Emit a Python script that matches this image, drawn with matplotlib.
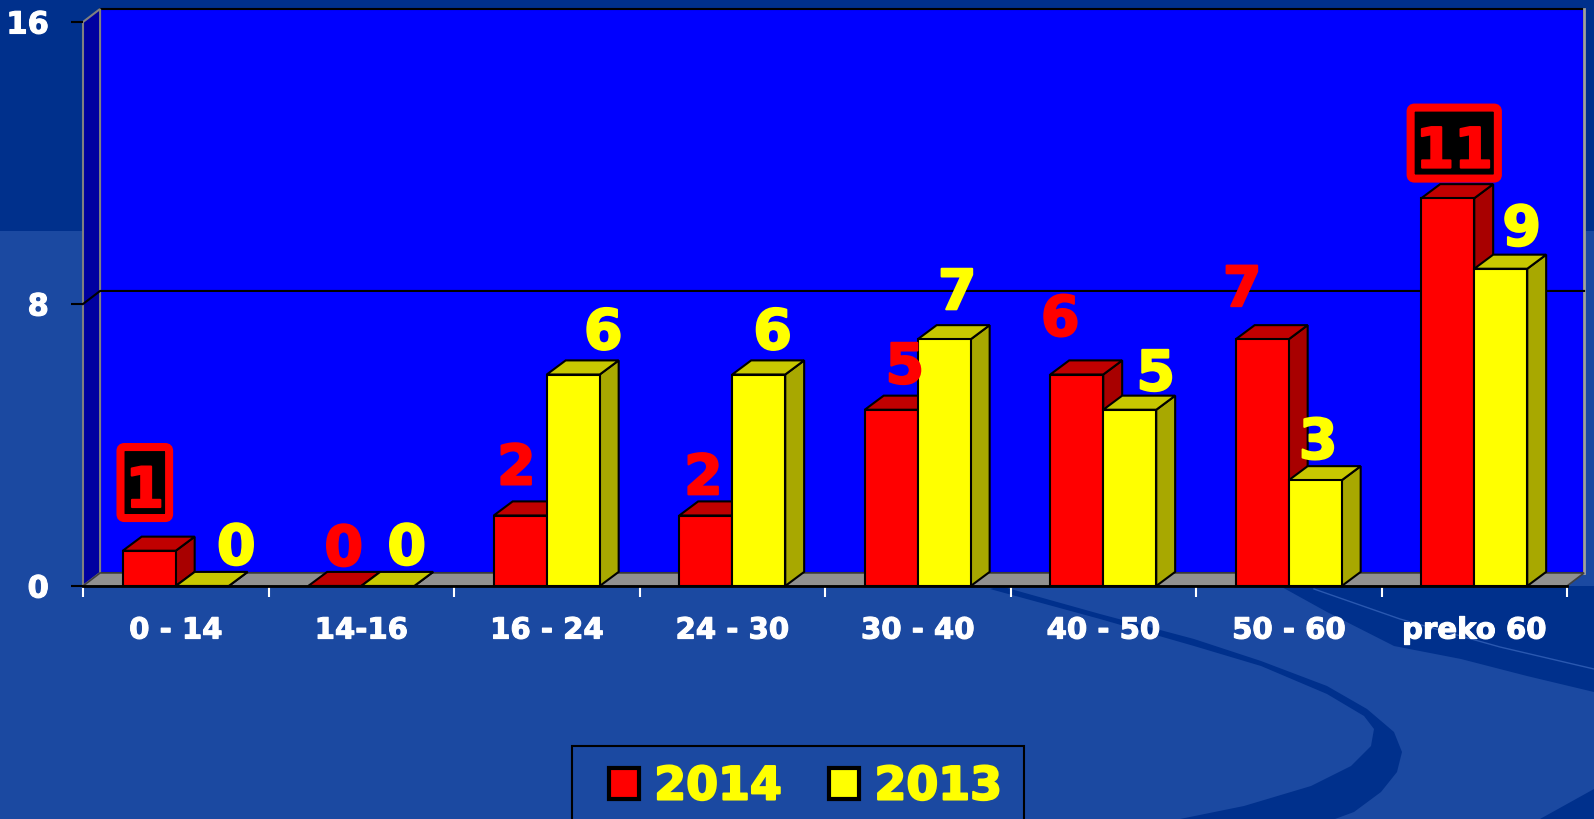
import matplotlib
matplotlib.use("Agg")
import matplotlib.pyplot as plt
import matplotlib.patheffects as pe
from matplotlib.patches import Polygon, Rectangle, Patch, FancyBboxPatch
from matplotlib.transforms import IdentityTransform

categories = ["0 - 14", "14-16", "16 - 24", "24 - 30", "30 - 40", "40 - 50", "50 - 60", "preko 60"]
values_2014 = [1, 0, 2, 2, 5, 6, 7, 11]
values_2013 = [0, 0, 6, 6, 7, 5, 3, 9]
series_names = ["2014", "2013"]
y_ticks = [0, 8, 16]

# label nudges (category units, value units) -- layout only
nudge_x_2014 = [-0.024, 0.048, -0.021, -0.013, 0.073, -0.089, -0.108, 0.035]
nudge_y_2014 = [1.82, 1.16, 1.46, 1.18, 1.33, 1.68, 1.52, 1.45]
nudge_x_2013 = [0.183, 0.102, 0.162, 0.075, 0.070, 0.140, 0.016, 0.113]
nudge_y_2013 = [1.19, 1.19, 1.30, 1.30, 1.43, 1.13, 1.19, 1.24]
boxed_2014 = [True, False, False, False, False, False, False, True]

W, H = 1594, 820
BASE = "#1b49a1"
DARK = "#00308c"
BAR_W = 0.2857
WALL_DX, WALL_DY = 0.092, 0.37
BAR_DX, BAR_DY = 0.102, 0.40
HALF_DIGIT = 0.58
DIGIT_PX = 41

plt.rcParams["font.family"] = ["DejaVu Sans"]
plt.rcParams["font.weight"] = "bold"

fig = plt.figure(figsize=(W / 100, H / 100), dpi=100)
fig.patch.set_facecolor(BASE)

# background decoration
bg = fig.add_axes([0, 0, 1, 1], zorder=-5)
bg.set_xlim(0, W)
bg.set_ylim(H, 0)
bg.axis("off")
bg.add_patch(Rectangle((0, 0), W, 232, facecolor=DARK, edgecolor="none"))
crescent = [(1000, 587), (1100, 615), (1194, 640), (1261, 662), (1327, 687), (1367, 710),
            (1394, 733), (1402, 753), (1397, 773), (1381, 793), (1354, 813), (1335, 820),
            (1180, 820), (1244, 807), (1311, 787), (1351, 767), (1371, 747), (1374, 730),
            (1364, 717), (1327, 695), (1261, 667), (1194, 647), (1100, 620), (990, 590)]
bg.add_patch(Polygon(crescent, closed=True, facecolor=DARK, edgecolor="none"))
band = [(1280, 587), (1594, 587), (1594, 693), (1527, 677), (1461, 660), (1394, 647),
        (1327, 613)]
bg.add_patch(Polygon(band, closed=True, facecolor=DARK, edgecolor="none"))
bg.plot([1314, 1400, 1500, 1594], [590, 620, 648, 670], color="#2a58b0", lw=1)
bg.add_patch(Polygon([(1540, 820), (1594, 790), (1594, 820)], closed=True,
                     facecolor=DARK, edgecolor="none"))

# main chart
ax = fig.add_axes([83 / W, (H - 587) / H, 1484 / W, 564 / H])
ax.set_facecolor("none")
n = len(categories)
ax.set_xlim(0, n)
ax.set_ylim(0, y_ticks[-1])
top = y_ticks[-1]

# walls and floor
ax.add_patch(Polygon([(WALL_DX, WALL_DY), (n + WALL_DX, WALL_DY), (n + WALL_DX, top + WALL_DY),
                      (WALL_DX, top + WALL_DY)], closed=True, facecolor="#0000ff",
                     edgecolor="black", lw=1.5, clip_on=False, zorder=0.5))
ax.plot([n + WALL_DX, n + WALL_DX], [WALL_DY, top + WALL_DY], color="#a0a0a0", lw=2,
        clip_on=False, zorder=0.6)
ax.add_patch(Polygon([(0, 0), (WALL_DX, WALL_DY), (WALL_DX, top + WALL_DY), (0, top)],
                     closed=True, facecolor="#0000a0", edgecolor="#808080", lw=1.5,
                     clip_on=False, zorder=1))
ax.add_patch(Polygon([(0, 0), (n, 0), (n + WALL_DX, WALL_DY), (WALL_DX, WALL_DY)], closed=True,
                     facecolor="#909090", edgecolor="#404040", lw=1.2, clip_on=False, zorder=1))
for yv in y_ticks[1:-1]:
    ax.plot([0, WALL_DX, n + WALL_DX], [yv, yv + WALL_DY, yv + WALL_DY], color="black", lw=1.5,
            clip_on=False, zorder=1.2)


def draw_bar(x0, h, front, top_c, side):
    faces = [
        ([(x0 + BAR_W, 0), (x0 + BAR_W + BAR_DX, BAR_DY), (x0 + BAR_W + BAR_DX, h + BAR_DY),
          (x0 + BAR_W, h)], side),
        ([(x0, h), (x0 + BAR_W, h), (x0 + BAR_W + BAR_DX, h + BAR_DY), (x0 + BAR_DX, h + BAR_DY)],
         top_c),
        ([(x0, 0), (x0 + BAR_W, 0), (x0 + BAR_W, h), (x0, h)], front),
    ]
    for pts, c in faces:
        ax.add_patch(Polygon(pts, closed=True, facecolor=c, edgecolor="black", lw=1.5,
                             clip_on=False, zorder=3))


def value_label(x, y, text, color):
    return ax.text(x, y, text, color=color, fontsize=40, fontweight="bold", ha="center",
                   va="baseline", zorder=7, clip_on=False,
                   path_effects=[pe.withStroke(linewidth=1.5, foreground=color)])


boxed = []
for i in range(n):
    c = i + 0.5
    draw_bar(c - BAR_W, values_2014[i], "#ff0000", "#c00000", "#a80000")
    draw_bar(c, values_2013[i], "#ffff00", "#c8c800", "#a8a800")

    xr = c - BAR_W / 2 + nudge_x_2014[i]
    yr = values_2014[i] + nudge_y_2014[i] - HALF_DIGIT
    t = value_label(xr, yr, str(values_2014[i]), "#ff0000")
    if boxed_2014[i]:
        boxed.append((t, xr, yr))
    xy = c + BAR_W / 2 + nudge_x_2013[i]
    yy = values_2013[i] + nudge_y_2013[i] - HALF_DIGIT
    value_label(xy, yy, str(values_2013[i]), "#ffff00")

# black boxes with red frame behind the highlighted labels
renderer = fig.canvas.get_renderer()
for t, xr, yr in boxed:
    ext = t.get_window_extent(renderer=renderer)
    bx, by = ax.transData.transform((xr, yr))
    x0, x1 = ext.x0 - 5, ext.x1 + 5
    y0, y1 = by - 11, by + DIGIT_PX + 19
    ax.add_patch(FancyBboxPatch((x0, y0), x1 - x0, y1 - y0,
                                boxstyle="round,pad=0,rounding_size=4",
                                transform=IdentityTransform(), facecolor="black",
                                edgecolor="#ff0000", lw=5.8, zorder=6, clip_on=False))

# axes styling
for side in ["top", "right", "left"]:
    ax.spines[side].set_visible(False)
ax.spines["bottom"].set_color("black")
ax.spines["bottom"].set_linewidth(2)
ax.spines["bottom"].set_zorder(2)

tick_fx = [pe.withStroke(linewidth=0.8, foreground="white")]
ax.set_yticks(y_ticks)
ax.set_yticklabels([str(v) for v in y_ticks])
ax.tick_params(axis="y", length=8.6, width=1.5, color="black", pad=16,
               labelcolor="white", labelsize=22)
ax.set_xticks(range(n + 1))
ax.set_xticklabels([])
ax.set_xticks([i + 0.5 for i in range(n)], minor=True)
ax.set_xticklabels(categories, minor=True)
ax.tick_params(axis="x", which="major", length=8, width=1.5, color="white", direction="out")
ax.tick_params(axis="x", which="minor", length=0, pad=22, labelcolor="white", labelsize=21)
for lab in ax.get_yticklabels() + ax.get_xticklabels(minor=True):
    lab.set_path_effects(tick_fx)

# legend
fig.add_artist(Rectangle((572 / W, -0.01), (1024 - 572) / W, (820 - 747) / H + 0.01,
                         transform=fig.transFigure, fill=False, edgecolor="black", lw=1.5))
handles = [Patch(facecolor="#ff0000", edgecolor="black", lw=3),
           Patch(facecolor="#ffff00", edgecolor="black", lw=3)]
leg = fig.legend(handles, series_names, loc="center", bbox_to_anchor=(805.5 / W, 1 - 788 / H),
                 ncol=2, frameon=False, prop=dict(weight="bold", size=33),
                 labelcolor="#ffff00", handlelength=0.66, handleheight=0.66,
                 handletextpad=0.33, columnspacing=1.03)
for txt in leg.get_texts():
    txt.set_path_effects([pe.withStroke(linewidth=1.5, foreground="#ffff00")])

fig.savefig("out.png", dpi=100, facecolor=fig.get_facecolor())
